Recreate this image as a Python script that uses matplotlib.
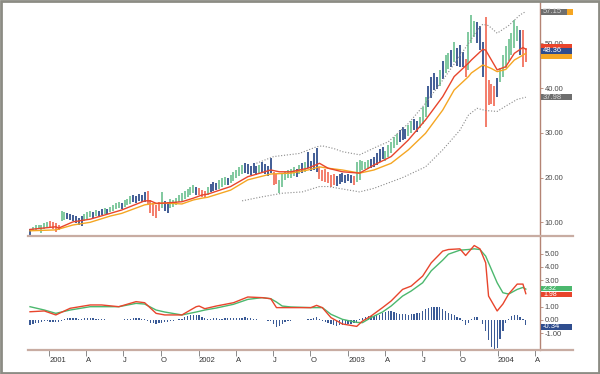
import numpy as np
import pandas as pd
import matplotlib
matplotlib.use("Agg")
import matplotlib.pyplot as plt
from matplotlib.patches import Rectangle
from matplotlib.lines import Line2D
from matplotlib.transforms import blended_transform_factory

plt.rcParams["font.family"] = ["Liberation Sans", "DejaVu Sans"]

# weekly bars, week 0 = mid Nov 2000
start = pd.Timestamp("2000-11-15")

bar_high = [8.5, 9.0, 9.4, 9.5, 9.3, 9.8, 10.0, 10.3, 10.0, 9.8,
            9.4, 12.6, 12.3, 12.0, 11.9, 11.6, 11.4, 11.0, 11.3, 11.8,
            12.2, 12.5, 12.4, 12.8, 12.6, 12.9, 13.2, 13.0, 13.5, 13.9,
            14.3, 14.6, 14.4, 14.9, 15.3, 15.8, 16.2, 15.9, 16.4, 16.0,
            16.8, 16.9, 15.0, 14.3, 13.8, 14.5, 16.8, 14.8, 14.5, 15.3,
            15.0, 15.5, 16.2, 16.6, 17.0, 17.5, 18.0, 18.3, 17.9, 17.6,
            17.2, 17.0, 18.0, 18.6, 19.0, 18.8, 19.4, 19.8, 20.2, 20.0,
            20.6, 21.2, 21.8, 22.3, 22.8, 23.3, 23.0, 22.7, 23.2, 22.6,
            22.9, 23.6, 23.0, 22.5, 24.4, 21.3, 20.8, 19.5, 20.8, 21.2,
            21.6, 22.0, 22.3, 22.0, 22.8, 23.2, 23.6, 25.7, 23.8, 25.6,
            26.6, 22.4, 21.8, 22.0, 21.3, 20.5, 20.8, 20.3, 20.8, 21.0,
            20.6, 20.9, 20.6, 20.4, 23.5, 23.9, 23.8, 23.6, 23.9, 24.2,
            24.6, 25.5, 26.3, 26.8, 26.0, 27.2, 28.0, 29.0, 29.8, 30.6,
            31.3, 30.8, 31.8, 32.6, 33.2, 32.6, 33.6, 35.8, 38.0, 40.5,
            42.5, 43.4, 42.5, 44.0, 46.0, 47.5, 47.9, 48.5, 50.3, 49.0,
            49.6, 48.2, 46.5, 52.5, 56.4, 55.0, 54.8, 54.0, 50.3, 56.0,
            41.8, 41.0, 40.5, 42.3, 44.5, 47.5, 49.5, 51.0, 52.3, 55.3,
            54.0, 53.0, 53.0, 49.0]
bar_low = [6.9, 8.0, 8.3, 8.4, 7.7, 8.6, 8.9, 8.8, 8.4, 7.9,
           8.3, 10.2, 10.6, 10.8, 10.5, 10.2, 9.8, 9.5, 9.2, 10.4,
           10.8, 11.2, 11.0, 11.5, 11.3, 11.6, 11.9, 11.8, 12.2, 12.6,
           12.9, 13.2, 13.0, 13.5, 13.8, 14.2, 14.6, 14.3, 14.8, 14.5,
           14.6, 14.2, 12.0, 11.5, 10.9, 12.5, 13.2, 12.5, 12.0, 13.2,
           13.5, 13.8, 14.5, 14.8, 15.3, 15.6, 16.0, 16.5, 16.2, 16.0,
           15.6, 15.5, 16.2, 16.7, 17.0, 17.2, 17.5, 18.0, 18.4, 18.3,
           18.8, 19.3, 19.8, 20.3, 20.8, 21.0, 20.8, 20.5, 21.0, 20.6,
           20.9, 21.2, 20.8, 20.3, 21.0, 18.3, 18.5, 16.6, 18.0, 19.4,
           19.8, 20.0, 20.3, 20.2, 20.7, 21.0, 21.3, 22.1, 21.5, 21.8,
           21.3, 19.6, 19.2, 19.0, 18.8, 18.0, 18.4, 18.2, 18.6, 19.0,
           18.8, 19.2, 18.9, 18.4, 19.0, 19.5, 21.7, 21.9, 22.0, 22.2,
           22.4, 22.9, 23.4, 24.1, 23.8, 24.5, 25.5, 26.6, 27.3, 28.0,
           28.4, 28.6, 29.2, 30.0, 30.6, 30.2, 31.0, 32.0, 33.5, 35.8,
           37.8, 39.5, 39.8, 40.5, 42.0, 43.4, 44.2, 44.7, 45.8, 45.0,
           44.7, 44.7, 42.5, 44.0, 50.0, 51.5, 50.0, 48.5, 42.5, 31.3,
           36.2, 36.5, 36.0, 38.0, 41.4, 42.5, 44.5, 46.0, 47.5, 49.0,
           50.5, 47.4, 44.8, 45.9]
bar_color = ("bggggggrrr" "rggbbbbbbg" "ggbgbbgbgg" "ggbgggbbbb" "brrrrrgbbg"
             "ggggggggbr" "rrgbbbgggb" "gggggbbbbb" "gbbbbrrggg" "gggbgbgbbb"
             "brrrrrrbbb" "bbbrgggggb" "bbbbgggggb" "bbggbbgggb" "bbbgbggbgb"
             "bbrgggbbbr" "rrrbgggggg" "gbrr")

# moving averages on the price (week, value)
ma_fast_wk = [0, 9, 10, 15, 21, 28, 32, 40, 42, 44, 47, 53, 57, 60, 62, 70, 76, 84, 87, 91,
              97, 101, 104, 109, 115, 120, 126, 132, 138, 144, 148, 153, 154, 158, 159,
              161, 163, 166, 169, 172, 173]
ma_fast = [8.4, 9.0, 8.7, 10.1, 10.7, 12.0, 12.75, 14.8, 14.8, 14.25, 14.3, 14.6, 15.4, 16.1,
           16.3, 18.0, 20.2, 21.7, 21.3, 21.3, 22.1, 23.2, 22.1, 21.3, 21.0, 22.8, 24.7, 28.4,
           32.9, 38.1, 42.6, 45.6, 46.3, 48.7, 48.5, 46.3, 44.1, 44.8, 47.8, 49.1, 48.7]
ma_slow_wk = [0, 9, 15, 21, 28, 32, 40, 42, 47, 53, 57, 60, 62, 70, 76, 84, 91, 97, 101, 104,
              109, 115, 120, 126, 132, 138, 144, 148, 153, 154, 158, 161, 163, 166, 169, 172, 173]
ma_slow = [8.1, 8.3, 9.4, 10.0, 11.4, 12.0, 13.9, 14.1, 14.3, 14.1, 15.0, 15.4, 15.6, 17.2,
           19.5, 20.8, 21.0, 21.7, 22.4, 22.1, 21.7, 21.0, 21.7, 23.2, 26.2, 29.9, 35.1, 39.6,
           42.6, 43.4, 45.2, 44.4, 43.7, 44.2, 46.3, 47.4, 47.8]

# envelope bands
band_up_wk = [79, 85, 94, 100, 102, 106, 109, 115, 121, 125, 132, 138, 144, 149, 153, 156,
              158, 160, 163, 167, 171, 173]
band_up = [23.2, 24.7, 25.4, 26.9, 27.1, 26.5, 25.8, 25.1, 26.9, 28.0, 32.1, 36.6, 41.8,
           46.3, 50.0, 53.0, 54.3, 54.0, 52.3, 54.0, 56.4, 57.15]
band_lo_wk = [74, 81, 88, 95, 101, 104, 115, 120, 130, 138, 144, 150, 153, 156, 159, 163,
              166, 170, 173]
band_lo = [14.8, 15.7, 16.5, 16.8, 18.0, 18.0, 16.8, 17.6, 20.0, 22.4, 26.2, 30.6, 34.0,
           35.5, 35.0, 34.8, 36.0, 37.5, 37.98]

# oscillator panel
macd_wk = [0, 5, 9, 14, 21, 25, 31, 37, 40, 44, 47, 53, 58, 59, 61, 65, 71, 76, 81, 84, 86,
           88, 91, 98, 100, 102, 105, 109, 114, 116, 119, 123, 126, 130, 133, 137, 140, 144,
           146, 150, 152, 155, 157, 159, 160, 163, 165, 167, 170, 172, 173]
macd = [0.62, 0.68, 0.38, 0.88, 1.13, 1.13, 1.0, 1.38, 1.3, 0.5, 0.38, 0.38, 1.0, 1.05, 0.85,
        1.05, 1.3, 1.73, 1.68, 1.6, 0.93, 0.93, 0.93, 0.93, 1.1, 0.93, 0.18, -0.3, -0.48,
        -0.08, 0.3, 0.93, 1.43, 2.3, 2.55, 3.3, 4.3, 5.18, 5.3, 5.35, 4.85, 5.6, 5.35, 4.3,
        1.8, 0.68, 1.2, 1.95, 2.7, 2.7, 1.98]
signal_wk = [0, 5, 9, 14, 21, 25, 31, 37, 40, 44, 47, 53, 58, 61, 65, 71, 76, 81, 84, 86, 88,
             91, 98, 102, 105, 109, 114, 116, 119, 123, 126, 130, 133, 137, 140, 144, 146,
             150, 153, 155, 157, 159, 161, 163, 165, 167, 170, 172, 173]
signal = [1.0, 0.75, 0.5, 0.75, 1.0, 1.0, 1.0, 1.25, 1.2, 0.75, 0.6, 0.38, 0.6, 0.75, 0.9,
          1.18, 1.55, 1.68, 1.6, 1.35, 1.05, 0.98, 0.93, 0.93, 0.43, 0.05, -0.18, -0.2, 0.18,
          0.6, 1.05, 1.8, 2.18, 2.8, 3.7, 4.5, 4.95, 5.25, 5.3, 5.35, 5.3, 4.8, 3.8, 2.8,
          2.05, 1.95, 2.3, 2.45, 2.32]
hist = [-0.35, -0.3, -0.25, -0.2, -0.15, -0.1, -0.1, -0.12, -0.15, -0.15,
        -0.12, -0.05, 0.05, 0.12, 0.15, 0.15, 0.12, 0.1, 0.1, 0.12,
        0.13, 0.13, 0.12, 0.1, 0.1, 0.08, 0.05, 0.03, 0.02, 0.0,
        -0.02, 0.0, 0.02, 0.05, 0.08, 0.1, 0.12, 0.13, 0.12, 0.1,
        0.05, -0.1, -0.2, -0.25, -0.28, -0.25, -0.22, -0.18, -0.15, -0.1,
        -0.05, 0.0, 0.05, 0.1, 0.2, 0.3, 0.35, 0.4, 0.38, 0.35,
        0.25, 0.15, 0.1, 0.1, 0.12, 0.12, 0.1, 0.1, 0.12, 0.12,
        0.12, 0.13, 0.15, 0.17, 0.18, 0.2, 0.18, 0.15, 0.1, 0.05,
        0.02, 0.0, -0.02, -0.05, -0.1, -0.3, -0.5, -0.45, -0.3, -0.15,
        -0.08, -0.05, -0.03, 0.0, 0.02, 0.03, 0.03, 0.05, 0.1, 0.18,
        0.2, 0.1, -0.05, -0.15, -0.25, -0.32, -0.38, -0.42, -0.4, -0.35,
        -0.33, -0.3, -0.28, -0.25, -0.15, 0.05, 0.15, 0.22, 0.28, 0.3,
        0.32, 0.35, 0.4, 0.5, 0.6, 0.7, 0.68, 0.6, 0.5, 0.45,
        0.45, 0.42, 0.4, 0.42, 0.45, 0.5, 0.55, 0.65, 0.8, 0.9,
        0.95, 1.0, 1.0, 0.95, 0.85, 0.7, 0.55, 0.45, 0.35, 0.25,
        0.15, -0.1, -0.4, -0.2, 0.1, 0.25, 0.2, 0.0, -0.3, -0.8,
        -1.5, -2.0, -2.2, -2.1, -1.4, -0.8, -0.2, 0.1, 0.3, 0.4,
        0.35, 0.2, 0.05, -0.34]

tick_dates = ["2001-01-01", "2001-04-01", "2001-07-01", "2001-10-01",
              "2002-01-01", "2002-04-01", "2002-07-01", "2002-10-01",
              "2003-01-01", "2003-04-01", "2003-07-01", "2003-10-01",
              "2004-01-01", "2004-04-01"]
tick_labels = ["2001", "A", "J", "O", "2002", "A", "J", "O", "2003", "A", "J", "O", "2004", "A"]

colmap = {"g": "#76c597", "b": "#33508e", "r": "#f2735f"}
red = "#e8452c"
orange = "#f5a623"
green = "#4cb86e"
navy = "#2f4d8e"
spine = "#b48474"
lab = "#4a4a4a"

W, H = 600, 374
fig = plt.figure(figsize=(6, 3.74), dpi=100)
fig.patch.set_facecolor("white")

x0, x1 = 28, 540
ax1 = fig.add_axes([x0 / W, 1 - 236 / H, (x1 - x0) / W, 234 / H])
ax2 = fig.add_axes([x0 / W, 1 - 350 / H, (x1 - x0) / W, 114 / H])

xlim = (-0.7, 177.95)
idx = np.arange(len(bar_high))

ax1.vlines(idx, bar_low, bar_high, colors=[colmap[c] for c in bar_color], lw=1.3)
ax1.plot(band_up_wk, band_up, color="#8a8a8a", lw=0.8, ls=(0, (1, 1.6)))
ax1.plot(band_lo_wk, band_lo, color="#8a8a8a", lw=0.8, ls=(0, (1, 1.6)))
ax1.plot(ma_slow_wk, ma_slow, color=orange, lw=1.0)
ax1.plot(ma_fast_wk, ma_fast, color=red, lw=1.0)
ax1.set_xlim(*xlim)
ax1.set_ylim(6.935, 59.28)

ax2.bar(idx, hist, width=0.45, color="#3a5a96")
ax2.plot(signal_wk, signal, color=green, lw=1.0)
ax2.plot(macd_wk, macd, color=red, lw=1.0)
ax2.set_xlim(*xlim)
ax2.set_ylim(-2.256, 6.316)

for ax in (ax1, ax2):
    for s in ("top", "left", "bottom"):
        ax.spines[s].set_visible(False)
    ax.spines["right"].set_color(spine)
    ax.spines["right"].set_linewidth(1.0)
    ax.yaxis.tick_right()
    ax.tick_params(axis="y", direction="out", length=2.5, width=0.6, color=spine,
                   labelsize=5.5, labelcolor=lab, pad=1)
    ax.patch.set_alpha(0)

ax1.set_yticks([10, 20, 30, 40, 50])
ax1.set_yticklabels(["10.00", "20.00", "30.00", "40.00", "50.00"])
ax1.set_xticks([])

# 2.00 sits under the value tags, so only its tick mark is shown
ax2.set_yticks([-1, 0, 1, 2, 3, 4, 5])
ax2.set_yticklabels(["-1.00", "0.00", "1.00", "", "3.00", "4.00", "5.00"])
tick_pos = (pd.to_datetime(tick_dates) - start).days / 7.0
ax2.set_xticks(tick_pos)
ax2.set_xticklabels(tick_labels)
ax2.tick_params(axis="x", direction="out", length=4, width=0.6, color="#777777",
                labelsize=5.5, labelcolor="#333333", pad=1)
for t in ax2.get_xticklabels():
    t.set_ha("left")

# separators / frame
for yy in (236, 350):
    fig.add_artist(Line2D([x0 / W, 573 / W], [1 - yy / H, 1 - yy / H],
                          color="#c8aca2", lw=1.6))
fig.add_artist(Rectangle((0.001, 0.002), 0.997, 0.995, transform=fig.transFigure,
                         fill=False, ec="#8c8c84", lw=2.0))


def tag(ax, val, fc, txt, px_per_unit, w=31, h=6, tc="white", fs=5.5):
    tr = blended_transform_factory(ax.transAxes, ax.transData)
    hh = h / px_per_unit
    ax.add_patch(Rectangle((1.002, val - hh / 2), w / (x1 - x0), hh, transform=tr,
                           fc=fc, ec="none", clip_on=False, zorder=10))
    if txt:
        ax.text(1.006, val, txt, transform=tr, ha="left", va="center", fontsize=fs,
                color=tc, clip_on=False, zorder=11)


tag(ax1, 57.15, orange, "", 4.47, w=32)
tag(ax1, 57.15, "#6e6e6e", "57.15", 4.47, w=26, tc="#d8d8d8")
tag(ax1, 49.3, red, "", 4.47)
tag(ax1, 47.2, orange, "", 4.47)
tag(ax1, 48.36, navy, "48.36", 4.47)
tag(ax1, 37.98, "#6e6e6e", "37.98", 4.47, tc="#d8d8d8")

tag(ax2, 2.36, green, "2.32", 13.3, h=5.5, fs=5)
tag(ax2, 1.92, red, "1.98", 13.3, h=5.5, fs=5)
tag(ax2, -0.52, navy, "-0.34", 13.3)

fig.savefig("out.png", dpi=100)
